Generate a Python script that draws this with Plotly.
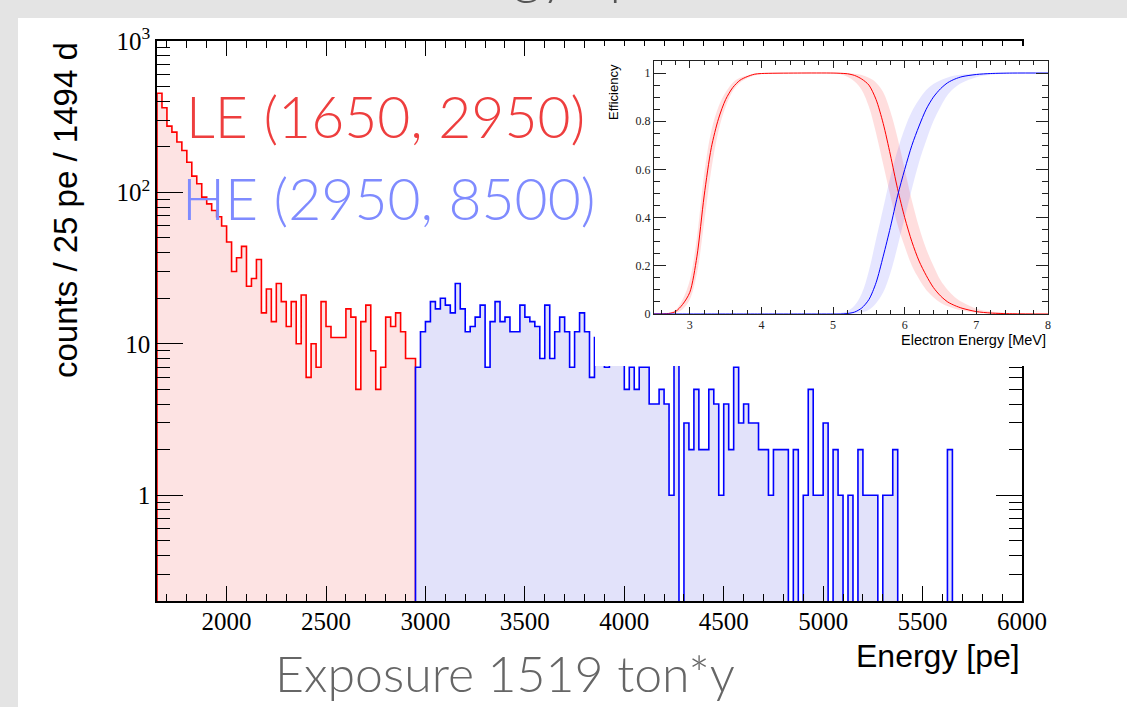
import plotly.graph_objects as go

# ---------------- data ----------------
bin_width = 25
e_start = 1650      # LE window lower edge
e_split = 2950      # LE / HE boundary
e_stop = 6000       # axis upper end

# counts / 25 pe, LE window (1650-2950)
le_counts = [452, 362, 274, 250, 215, 189, 158, 128, 114, 93,
             84, 76, 69, 60, 47, 30, 37, 44, 24, 27,
             36, 16, 23, 14, 25, 19, 13, 19, 10, 21,
             6, 10, 7, 19, 13, 11, 11, 11, 17, 15,
             5, 14, 18, 9, 5, 7, 15, 13, 16, 12,
             8, 8]
# counts / 25 pe, HE window (2950-6000)
he_counts = [7, 12, 14, 19, 17, 20, 18, 16, 25, 17,
             12, 13, 15, 18, 7, 14, 19, 14, 15, 12,
             12, 18, 15, 14, 13, 8, 18, 8, 12, 15,
             12, 7, 12, 16, 12, 6, 11, 9, 7, 10,
             8, 9, 5, 7, 5, 7, 7, 4, 4, 5,
             4, 1, 8, 0, 3, 2, 5, 2, 2, 5,
             4, 1, 4, 2, 7, 3, 4, 3, 3, 2,
             2, 1, 2, 2, 2, 0, 2, 0, 1, 5,
             1, 1, 3, 0, 2, 1, 0, 1, 0, 2,
             1, 1, 1, 0, 1, 1, 2, 0, 0, 0,
             0, 0, 0, 0, 0, 0, 0, 2, 0, 0,
             0, 0, 0, 0, 0, 0, 0, 0, 0, 0,
             0, 0]

x_tick_vals = [2000, 2500, 3000, 3500, 4000, 4500, 5000, 5500, 6000]
y_tick_vals = [1, 10, 100, 1000]
y_tick_text = ["1", "10", "10<sup>2</sup>", "10<sup>3</sup>"]

# inset: efficiency vs electron energy
eff_energy = [2.5, 2.7, 2.8, 2.9, 3.0, 3.1, 3.2, 3.3, 3.4, 3.5, 3.6, 3.7, 3.8,
              3.9, 4.0, 4.5, 5.0, 5.1, 5.2, 5.3, 5.4, 5.5, 5.6, 5.7, 5.8, 5.9,
              6.0, 6.1, 6.2, 6.3, 6.4, 6.5, 6.6, 6.7, 6.8, 7.0, 7.2, 7.5, 8.0]
le_eff = [0, 0.002, 0.01, 0.04, 0.09, 0.24, 0.49, 0.69, 0.81, 0.89, 0.94, 0.97, 0.985,
          0.995, 0.998, 1.0, 1.0, 0.999, 0.997, 0.99, 0.975, 0.95, 0.89, 0.79, 0.66, 0.52,
          0.40, 0.30, 0.22, 0.16, 0.11, 0.075, 0.05, 0.035, 0.024, 0.01, 0.004, 0.001, 0.0]
le_eff_lo = [0, 0.001, 0.005, 0.02, 0.06, 0.17, 0.38, 0.60, 0.76, 0.86, 0.925, 0.96, 0.978,
             0.99, 0.995, 1.0, 0.999, 0.995, 0.985, 0.965, 0.93, 0.86, 0.75, 0.62, 0.49, 0.37,
             0.28, 0.20, 0.145, 0.10, 0.07, 0.047, 0.032, 0.022, 0.015, 0.006, 0.002, 0.0005, 0.0]
le_eff_hi = [0.001, 0.005, 0.017, 0.06, 0.14, 0.32, 0.58, 0.76, 0.86, 0.92, 0.96, 0.98, 0.99,
             0.997, 1.0, 1.0, 1.0, 1.0, 0.999, 0.997, 0.992, 0.98, 0.96, 0.92, 0.84, 0.73,
             0.60, 0.47, 0.36, 0.27, 0.20, 0.14, 0.10, 0.07, 0.05, 0.022, 0.01, 0.003, 0.0]
he_eff = [0, 0, 0, 0, 0, 0, 0, 0, 0, 0, 0, 0, 0,
          0, 0, 0, 0, 0.0, 0.002, 0.008, 0.025, 0.06, 0.13, 0.24, 0.36, 0.49,
          0.60, 0.70, 0.78, 0.85, 0.90, 0.935, 0.96, 0.975, 0.985, 0.994, 0.998, 1.0, 1.0]
he_eff_lo = [0, 0, 0, 0, 0, 0, 0, 0, 0, 0, 0, 0, 0,
             0, 0, 0, 0, 0, 0, 0.002, 0.006, 0.018, 0.045, 0.09, 0.17, 0.28,
             0.40, 0.52, 0.63, 0.72, 0.80, 0.86, 0.91, 0.94, 0.96, 0.983, 0.993, 0.999, 1.0]
he_eff_hi = [0, 0, 0, 0, 0, 0, 0, 0, 0, 0, 0, 0, 0,
             0, 0, 0, 0.001, 0.004, 0.012, 0.035, 0.085, 0.18, 0.31, 0.44, 0.57, 0.68,
             0.77, 0.84, 0.89, 0.93, 0.955, 0.97, 0.982, 0.99, 0.994, 0.998, 1.0, 1.0, 1.0]
inset_x_ticks = [3, 4, 5, 6, 7, 8]
inset_y_ticks = [0, 0.2, 0.4, 0.6, 0.8, 1.0]
inset_y_text = ["0", "0.2", "0.4", "0.6", "0.8", "1"]

# ---------------- geometry helpers ----------------
W, H = 1127, 707
ML, MR, MT, MB = 157, 77, 41, 106
PW, PH = W - ML - MR, H - MT - MB


def px(x):
    return (x - ML) / PW


def py(y):
    return (H - MB - y) / PH


FLOOR = 0.1  # display level for empty bins (below the axis bottom)


def step_path(lo_edge, counts):
    edges = [lo_edge + bin_width * i for i in range(len(counts) + 1)]
    disp = [c if c > 0 else FLOOR for c in counts]
    xs = [edges[0]] + edges + [edges[-1]]
    ys = [FLOOR] + disp + [disp[-1]] + [FLOOR]
    return xs, ys


fig = go.Figure()

# ---------------- main histogram ----------------
lx, ly = step_path(e_start, le_counts)
hx, hy = step_path(e_split, he_counts)
fig.add_trace(go.Scatter(x=lx, y=ly, mode="lines", line=dict(color="#ff0000", width=1.6, shape="hv"),
                         fill="toself", fillcolor="rgb(253,227,227)", showlegend=False, hoverinfo="skip",
                         xaxis="x", yaxis="y"))
fig.add_trace(go.Scatter(x=hx, y=hy, mode="lines", line=dict(color="#0000ff", width=1.6, shape="hv"),
                         fill="toself", fillcolor="rgb(226,226,250)", showlegend=False, hoverinfo="skip",
                         xaxis="x", yaxis="y"))

# ---------------- inset cover (white pad) ----------------
fig.add_trace(go.Scatter(x=[], y=[], mode="markers", showlegend=False, hoverinfo="skip",
                         xaxis="x2", yaxis="y2"))

# ---------------- inset curves ----------------
fig.add_trace(go.Scatter(x=eff_energy, y=le_eff_hi, mode="lines", line=dict(width=0, shape="spline"),
                         showlegend=False, hoverinfo="skip", xaxis="x3", yaxis="y3"))
fig.add_trace(go.Scatter(x=eff_energy, y=le_eff_lo, mode="lines", line=dict(width=0, shape="spline"),
                         fill="tonexty", fillcolor="rgba(255,60,60,0.17)",
                         showlegend=False, hoverinfo="skip", xaxis="x3", yaxis="y3"))
fig.add_trace(go.Scatter(x=eff_energy, y=he_eff_hi, mode="lines", line=dict(width=0, shape="spline"),
                         showlegend=False, hoverinfo="skip", xaxis="x3", yaxis="y3"))
fig.add_trace(go.Scatter(x=eff_energy, y=he_eff_lo, mode="lines", line=dict(width=0, shape="spline"),
                         fill="tonexty", fillcolor="rgba(60,60,255,0.13)",
                         showlegend=False, hoverinfo="skip", xaxis="x3", yaxis="y3"))
fig.add_trace(go.Scatter(x=eff_energy, y=le_eff, mode="lines",
                         line=dict(color="#ff0000", width=1, shape="spline", smoothing=0.8),
                         showlegend=False, hoverinfo="skip", xaxis="x3", yaxis="y3"))
fig.add_trace(go.Scatter(x=eff_energy, y=he_eff, mode="lines",
                         line=dict(color="#0000ff", width=1, shape="spline", smoothing=0.8),
                         showlegend=False, hoverinfo="skip", xaxis="x3", yaxis="y3"))

serif = "Liberation Serif, Times New Roman, serif"
sans = "Liberation Sans, Arial, sans-serif"
humanist = "Lato, Open Sans, sans-serif"

y_minor = [m * 10 ** k for k in range(-1, 3) for m in range(2, 10)]

fig.update_layout(
    width=W, height=H, autosize=False,
    margin=dict(l=ML, r=MR, t=MT, b=MB, pad=0),
    paper_bgcolor="#e4e4e4", plot_bgcolor="white",
    showlegend=False,
    xaxis=dict(domain=[0, px(1022)], range=[e_start, e_stop], anchor="y",
               showgrid=False, zeroline=False, showline=True, linecolor="black", linewidth=1.5,
               mirror="ticks", ticks="inside", ticklen=15, tickwidth=1, tickcolor="black",
               tickmode="array", tickvals=x_tick_vals, ticklabelstandoff=-3,
               tickfont=dict(family=serif, size=25, color="black"),
               minor=dict(ticks="inside", ticklen=7, tickwidth=1, tickcolor="black", dtick=100, tick0=0,
                          showgrid=False)),
    yaxis=dict(domain=[0, 1], type="log", range=[-0.699, 3.0], anchor="x",
               showgrid=False, zeroline=False, showline=True, linecolor="black", linewidth=1.5,
               mirror="ticks", ticks="inside", ticklen=26, tickwidth=1, tickcolor="black",
               tickmode="array", tickvals=y_tick_vals, ticktext=y_tick_text,
               tickfont=dict(family=serif, size=25, color="black"),
               minor=dict(ticks="inside", ticklen=13, tickwidth=1, tickcolor="black",
                          tickmode="array", tickvals=y_minor, showgrid=False)),
    xaxis2=dict(domain=[px(595), 1.0], anchor="y2", range=[0, 1], showgrid=False, zeroline=False,
                showline=False, showticklabels=False, ticks="", fixedrange=True),
    yaxis2=dict(domain=[py(366), py(46)], anchor="x2", range=[0, 1], showgrid=False, zeroline=False,
                showline=False, showticklabels=False, ticks="", fixedrange=True),
    xaxis3=dict(domain=[px(654), px(1048)], anchor="y3", range=[2.5, 8.0],
                showgrid=False, zeroline=False, showline=True, linecolor="#222", linewidth=1,
                mirror="ticks", ticks="inside", ticklen=7, tickwidth=1, tickcolor="#222",
                tickmode="array", tickvals=inset_x_ticks,
                tickfont=dict(family=serif, size=12, color="#222"),
                minor=dict(ticks="inside", ticklen=4, tickwidth=1, tickcolor="#222", dtick=0.2, tick0=0)),
    yaxis3=dict(domain=[py(314), py(61)], anchor="x3", range=[0, 1.05],
                showgrid=False, zeroline=False, showline=True, linecolor="#222", linewidth=1,
                mirror="ticks", ticks="inside", ticklen=12, tickwidth=1, tickcolor="#222",
                tickmode="array", tickvals=inset_y_ticks, ticktext=inset_y_text,
                tickfont=dict(family=serif, size=12, color="#222"),
                minor=dict(ticks="inside", ticklen=6, tickwidth=1, tickcolor="#222", dtick=0.05, tick0=0)),
)

# white slide panel
fig.add_shape(type="rect", xref="paper", yref="paper", x0=px(18), x1=px(W) + 0.01,
              y0=py(H) - 0.01, y1=py(18), fillcolor="white", line=dict(width=0), layer="below")

annotations = [
    # slide title above the visible area: only its descenders show, as in the reference
    dict(text="Energy Spectrum", x=px(605), y=py(-26),
         font=dict(family=humanist, size=54, color="#555555", weight=300)),
    dict(text="LE (1650, 2950)", x=px(385), y=py(116), font=dict(family=humanist, size=57, color="#ee3e3e", weight=300)),
    dict(text="HE (2950, 8500)", x=px(388), y=py(198), font=dict(family=humanist, size=57, color="#7f8bff", weight=300)),
    dict(text="counts / 25 pe / 1494 d", x=px(65), y=py(210), textangle=-90,
         font=dict(family=sans, size=33, color="black")),
    dict(text="Energy [pe]", x=px(1022), y=py(656), xanchor="right",
         font=dict(family=sans, size=32, color="black")),
    dict(text="Exposure 1519 ton*y", x=px(505), y=py(673),
         font=dict(family=humanist, size=50, color="#666666", weight=300)),
    dict(text="Efficiency", x=px(613), y=py(92), textangle=-90,
         font=dict(family=sans, size=13, color="black")),
    dict(text="Electron Energy [MeV]", x=px(1048), y=py(340), xanchor="right",
         font=dict(family=sans, size=14.5, color="black")),
]
for a in annotations:
    a.setdefault("xanchor", "center")
    fig.add_annotation(xref="paper", yref="paper", showarrow=False, yanchor="middle", **a)

fig.write_html("out.html")
